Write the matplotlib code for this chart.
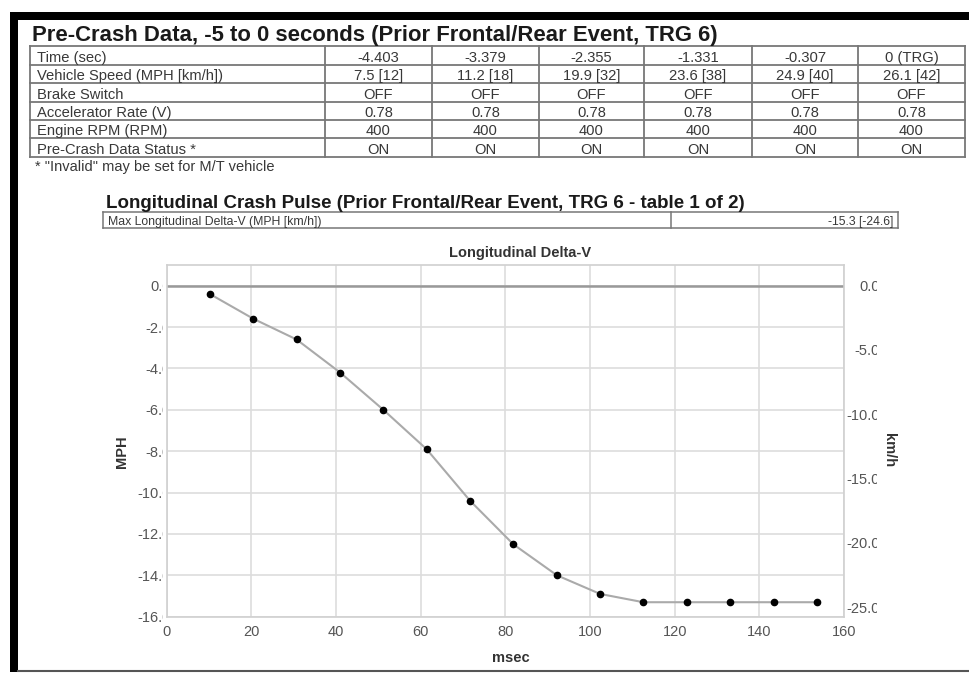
import matplotlib
matplotlib.use("Agg")
import matplotlib.pyplot as plt
from matplotlib.patches import Rectangle
from matplotlib.lines import Line2D
from matplotlib.transforms import Affine2D, Bbox

plt.rcParams['font.family'] = ['Liberation Sans', 'DejaVu Sans']

# ---- pre-crash table data ----
row_labels = ["Time (sec)", "Vehicle Speed (MPH [km/h])", "Brake Switch",
              "Accelerator Rate (V)", "Engine RPM (RPM)", "Pre-Crash Data Status *"]
times = ["-4.403", "-3.379", "-2.355", "-1.331", "-0.307", "0 (TRG)"]
speed_mph = [7.5, 11.2, 19.9, 23.6, 24.9, 26.1]
speed_kmh = [12, 18, 32, 38, 40, 42]
brake = ["OFF", "OFF", "OFF", "OFF", "OFF", "OFF"]
accel_v = [0.78, 0.78, 0.78, 0.78, 0.78, 0.78]
engine_rpm = [400, 400, 400, 400, 400, 400]
status = ["ON", "ON", "ON", "ON", "ON", "ON"]

# ---- crash pulse data ----
max_dv_mph = -15.3
max_dv_kmh = -24.6
msec = [10.2, 20.5, 30.7, 41.0, 51.2, 61.4, 71.7, 81.9, 92.2, 102.4,
        112.6, 122.9, 133.1, 143.4, 153.6]
delta_v_mph = [-0.4, -1.6, -2.6, -4.2, -6.0, -7.9, -10.4, -12.5, -14.0, -14.9,
               -15.3, -15.3, -15.3, -15.3, -15.3]
MPH_TO_KMH = 1.609344

W, H = 969, 673
fig = plt.figure(figsize=(W / 100, H / 100), dpi=100)
fig.patch.set_facecolor("white")

# pixel coordinates measured from the top-left corner
PX = Affine2D().scale(1 / W, -1 / H).translate(0, 1) + fig.transFigure

# page frame
fig.add_artist(Rectangle((10, 12), W - 10, 8, transform=PX, color="black", lw=0))
fig.add_artist(Rectangle((10, 12), 8, 660, transform=PX, color="black", lw=0))
fig.add_artist(Line2D([18, W], [670.8, 670.8], transform=PX, color="#555555", lw=1.5))

TEXT = "#383838"
GRID = "#777777"

# ---- pre-crash table ----
fig.text(32, 41.5, "Pre-Crash Data, -5 to 0 seconds (Prior Frontal/Rear Event, TRG 6)",
         transform=PX, fontsize=15.9, fontweight="bold", color="#1a1a1a", va="baseline")

col_edges = [30, 325, 432, 539, 644, 752, 858, 965]
row_edges = [46, 65, 83.3, 101.7, 120, 137.7, 156.7]
for y in row_edges:
    fig.add_artist(Line2D([col_edges[0], col_edges[-1]], [y, y], transform=PX,
                          color=GRID, lw=1.3))
for x in col_edges:
    fig.add_artist(Line2D([x, x], [row_edges[0], row_edges[-1]], transform=PX,
                          color=GRID, lw=1.3))

cells = [
    times,
    [f"{m} [{k}]" for m, k in zip(speed_mph, speed_kmh)],
    brake,
    [f"{a:.2f}" for a in accel_v],
    [str(r) for r in engine_rpm],
    status,
]
for i, label in enumerate(row_labels):
    yb = row_edges[i + 1] - 3
    fig.text(37, yb, label, transform=PX, fontsize=10.6, color=TEXT, va="baseline")
    for j, val in enumerate(cells[i]):
        xc = (col_edges[j + 1] + col_edges[j + 2]) / 2
        fig.text(xc, yb, val, transform=PX, fontsize=10.6, color=TEXT,
                 va="baseline", ha="center")

fig.text(35, 171, '* "Invalid" may be set for M/T vehicle', transform=PX,
         fontsize=10.5, color=TEXT, va="baseline")

# ---- crash pulse header ----
fig.text(106, 208, "Longitudinal Crash Pulse (Prior Frontal/Rear Event, TRG 6 - table 1 of 2)",
         transform=PX, fontsize=13.5, fontweight="bold", color="#1a1a1a", va="baseline")
for y in (211.7, 228):
    fig.add_artist(Line2D([103, 898], [y, y], transform=PX, color=GRID, lw=1.1))
for x in (103, 670.7, 898):
    fig.add_artist(Line2D([x, x], [211.7, 228], transform=PX, color=GRID, lw=1.1))
fig.text(108, 225.5, "Max Longitudinal Delta-V (MPH [km/h])", transform=PX,
         fontsize=8.8, color=TEXT, va="baseline")
fig.text(893, 225.5, f"{max_dv_mph} [{max_dv_kmh}]", transform=PX,
         fontsize=8.8, color=TEXT, va="baseline", ha="right")

# ---- chart ----
ax_l, ax_r, ax_t, ax_b = 166.6, 844, 265, 616.7
ax = fig.add_axes([ax_l / W, 1 - ax_b / H, (ax_r - ax_l) / W, (ax_b - ax_t) / H])
ax.set_xlim(0, 160)
ax.set_ylim(-16, 1.0)
ax.set_xticks(range(0, 161, 20))
ax.set_yticks(range(0, -17, -2))
ax.set_yticklabels([f"{v:.1f}" for v in range(0, -17, -2)])
ax.grid(True, color="#dddddd", lw=1.2)
ax.set_axisbelow(True)
for s in ax.spines.values():
    s.set_color("#d0d0d0")
    s.set_linewidth(1.2)
ax.axhline(0, color="#999999", lw=1.8, zorder=1.5)

ax.plot(msec, delta_v_mph, color="#aaaaaa", lw=1.5, zorder=2)
ax.plot(msec, delta_v_mph, "o", color="black", ms=4.5, zorder=3)

ax.tick_params(axis="both", length=0, labelsize=10.5, labelcolor="#555555")
ax.tick_params(axis="x", pad=6)
ax.tick_params(axis="y", pad=-3)

ax2 = ax.twinx()
ax2.set_ylim(-16 * MPH_TO_KMH, 1.0 * MPH_TO_KMH)
kmh_ticks = [0, -5, -10, -15, -20, -25]
ax2.set_yticks(kmh_ticks)
ax2.set_yticklabels([f"{v:.1f}" for v in kmh_ticks])
ax2.tick_params(axis="y", length=0, labelsize=10.5, labelcolor="#555555", pad=26)
for lbl in ax2.get_yticklabels():
    lbl.set_horizontalalignment("right")
for s in ax2.spines.values():
    s.set_visible(False)

# labels cut off at the axis edges
left_clip = Bbox([[0, 0], [163, H]])
right_clip = Bbox([[0, 0], [877, H]])
for lbl in ax.get_yticklabels():
    lbl.set_clip_box(left_clip)
    lbl.set_clip_on(True)
for lbl in ax2.get_yticklabels():
    lbl.set_clip_box(right_clip)
    lbl.set_clip_on(True)

ax.text(0.522, 1 + (ax_t - 253) / (ax_b - ax_t), "Longitudinal Delta-V",
        transform=ax.transAxes, ha="center", va="center",
        fontsize=10.5, fontweight="bold", color="#333333")
ax.set_xlabel("msec", fontsize=10.5, fontweight="bold", color="#333333")
ax.xaxis.set_label_coords(0.508, -0.0975)
ax.set_ylabel("MPH", fontsize=10.5, fontweight="bold", color="#333333")
ax.yaxis.set_label_coords(-0.055, 0.469)
ax2.set_ylabel("km/h", fontsize=10.5, fontweight="bold", color="#333333", rotation=270,
               va="center")
ax2.yaxis.set_label_coords(1.066, 0.474)

fig.savefig("out.png", dpi=100, facecolor="white")
